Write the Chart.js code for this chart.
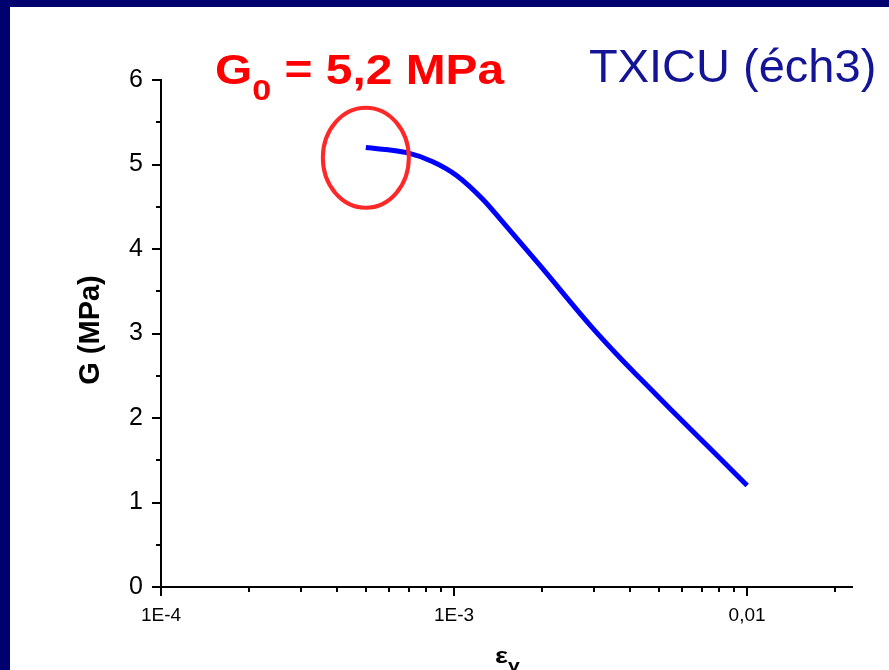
<!DOCTYPE html>
<html>
<head>
<meta charset="utf-8">
<script src="https://cdn.jsdelivr.net/npm/chart.js@4.4.1/dist/chart.umd.min.js"></script>
<style>
  html, body { margin: 0; padding: 0; }
  body { width: 889px; height: 670px; background: #00006e; position: relative; overflow: hidden; }
  #panel { position: absolute; left: 10px; top: 7px; width: 879px; height: 663px; background: #fff; }
  canvas { display: block; }
</style>
</head>
<body>
<div id="panel"><canvas id="gChart" width="879" height="663"></canvas></div>
<script>
// ── Data ─────────────────────────────────────────────────────────────────────
const STRAIN  = [5.0e-4, 6.9e-4, 8.5e-4, 1.02e-3, 1.26e-3, 1.44e-3, 1.97e-3,
                 2.91e-3, 3.69e-3, 4.31e-3, 5.46e-3, 8.09e-3, 1.0e-2];
const MODULUS = [5.20, 5.14, 5.03, 4.87, 4.58, 4.35, 3.80,
                 3.10, 2.71, 2.47, 2.11, 1.52, 1.20];

const X_TICKS        = [1e-4, 2e-4, 3e-4, 4e-4, 5e-4, 6e-4, 7e-4, 8e-4, 9e-4,
                        1e-3, 2e-3, 3e-3, 4e-3, 5e-3, 6e-3, 7e-3, 8e-3, 9e-3,
                        1e-2, 2e-2];
const X_MAJOR        = [1e-4, 1e-3, 1e-2];
const X_MAJOR_LABELS = ['1E-4', '1E-3', '0,01'];
const Y_TICKS        = [0, 1, 2, 3, 4, 5, 6];
const Y_MINOR        = [0.5, 1.5, 2.5, 3.5, 4.5, 5.5];

const G0_POINT = [5e-4, 5.08];   // centre of the red ring, in data units

// ── Helpers ───────────────────────────────────────────────────────────────────
const FONT = 'Arial, "Liberation Sans", sans-serif';
const majorIndex = v => X_MAJOR.findIndex(m => Math.abs(v / m - 1) < 1e-6);

function drawRun(ctx, parts, x0, y0, sx) {
  ctx.save();
  ctx.translate(x0, y0);
  ctx.scale(sx, 1);
  let cx = 0;
  parts.forEach(p => {
    ctx.font = p.font;
    ctx.fillText(p.text, cx, p.dy || 0);
    cx += ctx.measureText(p.text).width;
  });
  ctx.restore();
}

// ── Ticks + annotations ───────────────────────────────────────────────────────
const decorations = {
  id: 'decorations',
  afterDraw(chart) {
    const { ctx, chartArea, scales: { x, y } } = chart;
    ctx.save();

    // tick marks (outward, major longer)
    ctx.strokeStyle = '#000';
    ctx.lineWidth = 2;
    ctx.beginPath();
    X_TICKS.forEach(v => {
      const px = Math.round(x.getPixelForValue(v));
      const len = majorIndex(v) >= 0 ? 9 : 5;
      ctx.moveTo(px, chartArea.bottom);
      ctx.lineTo(px, chartArea.bottom + len);
    });
    Y_TICKS.forEach(v => {
      const py = Math.round(y.getPixelForValue(v));
      ctx.moveTo(chartArea.left, py);
      ctx.lineTo(chartArea.left - 9, py);
    });
    Y_MINOR.forEach(v => {
      const py = Math.round(y.getPixelForValue(v));
      ctx.moveTo(chartArea.left, py);
      ctx.lineTo(chartArea.left - 5, py);
    });
    ctx.stroke();

    // red ring around G0
    ctx.strokeStyle = '#ff2828';
    ctx.lineWidth = 4;
    ctx.beginPath();
    ctx.ellipse(x.getPixelForValue(G0_POINT[0]), y.getPixelForValue(G0_POINT[1]), 43, 50, 0, 0, Math.PI * 2);
    ctx.stroke();

    ctx.textBaseline = 'alphabetic';
    ctx.textAlign = 'left';

    // G0 = 5,2 MPa
    ctx.fillStyle = '#ff0000';
    drawRun(ctx, [
      { text: 'G', font: `bold 42px ${FONT}` },
      { text: '0', font: `bold 30px ${FONT}`, dy: 16 },
      { text: ' = 5,2 MPa', font: `bold 42px ${FONT}` },
    ], 205, 77, 1.14);

    // sample name
    ctx.fillStyle = '#141496';
    ctx.font = `47px ${FONT}`;
    ctx.fillText('TXICU (éch3)', 579, 75);

    // y axis title
    ctx.fillStyle = '#000';
    ctx.save();
    ctx.translate(89, 323);
    ctx.rotate(-Math.PI / 2);
    ctx.textAlign = 'center';
    ctx.font = `bold 29px ${FONT}`;
    ctx.fillText('G (MPa)', 0, 0);
    ctx.restore();

    // x axis title
    drawRun(ctx, [
      { text: 'ε', font: `bold 22px ${FONT}` },
      { text: 'v', font: `bold 17px ${FONT}`, dy: 8 },
    ], 485, 656, 1.25);

    ctx.restore();
  },
};

// ── Chart ─────────────────────────────────────────────────────────────────────
new Chart(document.getElementById('gChart').getContext('2d'), {
  type: 'scatter',
  data: {
    datasets: [{
      label: 'TXICU (éch3)',
      data: STRAIN.map((s, i) => ({ x: s, y: MODULUS[i] })),
      showLine: true,
      borderColor: '#0000ff',
      borderWidth: 5,
      pointRadius: 0,
      cubicInterpolationMode: 'monotone',
      fill: false,
    }],
  },
  plugins: [decorations],
  options: {
    responsive: false,
    animation: false,
    devicePixelRatio: 1,
    layout: { padding: { top: 73, right: 37, left: 0, bottom: 0 } },
    plugins: { legend: { display: false }, tooltip: { enabled: false } },
    scales: {
      x: {
        type: 'logarithmic',
        position: 'bottom',
        min: 1e-4,
        max: 0.0228,
        afterBuildTicks: s => { s.ticks = X_TICKS.map(v => ({ value: v })); },
        afterFit: s => { s.height = 83; },
        grid: { display: false, drawTicks: false },
        border: { color: '#000', width: 2 },
        ticks: {
          autoSkip: false,
          maxRotation: 0,
          color: '#000',
          padding: 17,
          font: { family: FONT, size: 19 },
          callback: v => { const i = majorIndex(v); return i >= 0 ? X_MAJOR_LABELS[i] : ''; },
        },
      },
      y: {
        min: 0,
        max: 6,
        afterBuildTicks: s => { s.ticks = Y_TICKS.map(v => ({ value: v })); },
        afterFit: s => { s.width = 151; },
        grid: { display: false, drawTicks: false },
        border: { color: '#000', width: 2 },
        ticks: {
          color: '#000',
          padding: 18,
          font: { family: FONT, size: 25 },
        },
      },
    },
  },
});
</script>
</body>
</html>
